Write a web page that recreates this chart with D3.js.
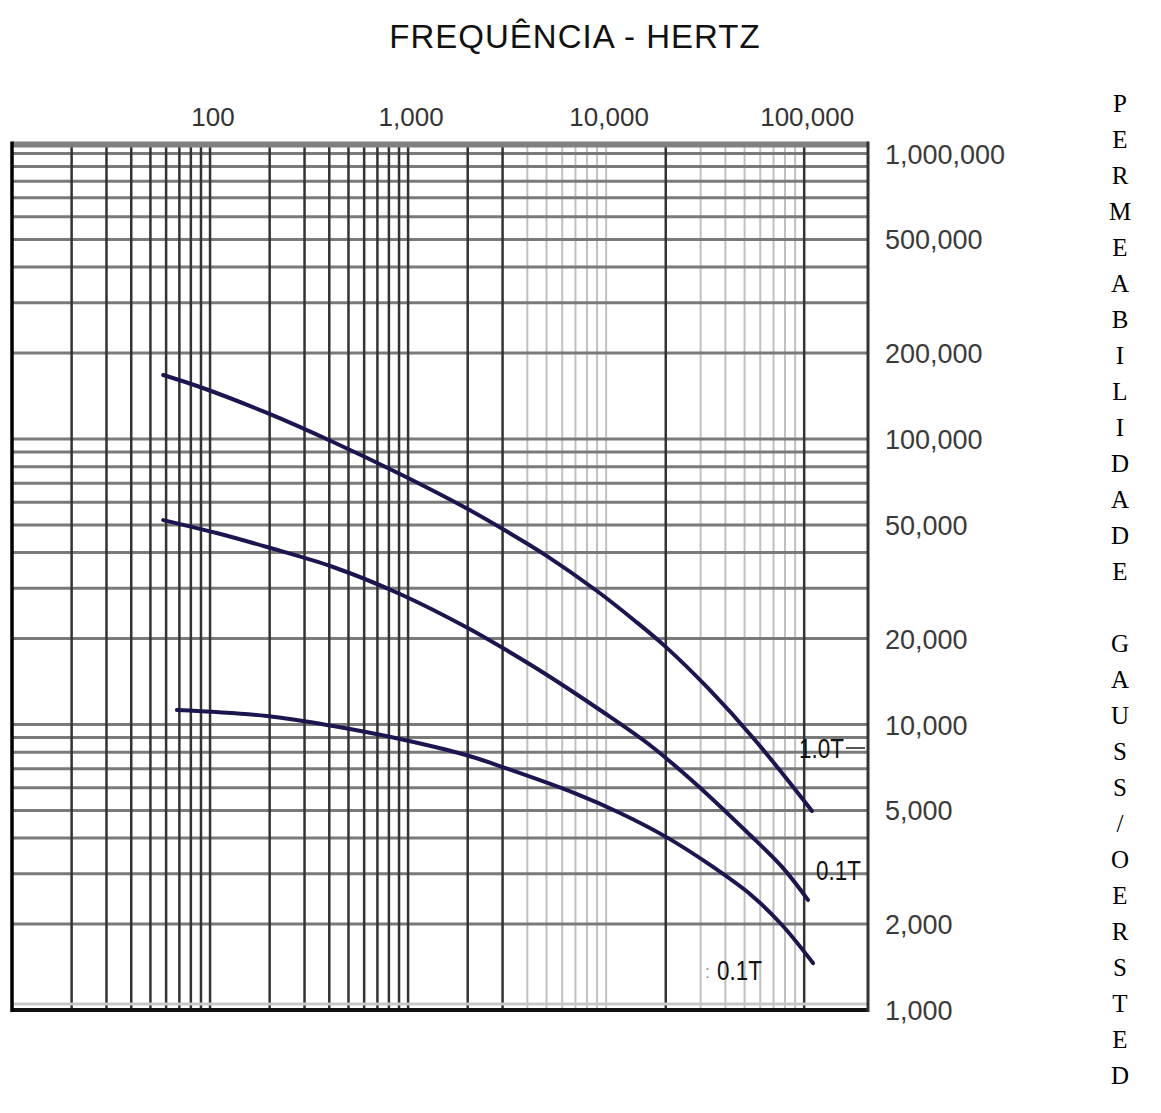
<!DOCTYPE html>
<html>
<head>
<meta charset="utf-8">
<script src="https://cdn.jsdelivr.net/npm/d3@7"></script>
<style>
  html, body { margin: 0; padding: 0; background: #fff; }
  svg { display: block; }
</style>
</head>
<body>
<script>
// Frequency axis (Hz, log)
const freqDomain = [10, 210000];
const freqTicks = [100, 1000, 10000, 100000];
const freqTickLabels = ["100", "1,000", "10,000", "100,000"];
const freqLinesDark = [20, 30, 40, 50, 60, 70, 80, 90, 100, 200, 300, 400, 500, 600, 700, 800, 900, 1000, 2000, 3000, 20000, 100000];
const freqLinesLight = [4000, 5000, 6000, 7000, 8000, 9000, 10000, 30000, 40000, 50000, 60000, 70000, 80000, 90000];

// Permeability axis (gauss/oersted, log)
const permDomain = [1000, 1000000];
const permTicks = [1000000, 500000, 200000, 100000, 50000, 20000, 10000, 5000, 2000, 1000];
const permTickLabels = ["1,000,000", "500,000", "200,000", "100,000", "50,000", "20,000", "10,000", "5,000", "2,000", "1,000"];
const permLines = [2000, 3000, 4000, 5000, 6000, 7000, 8000, 9000, 10000,
  20000, 30000, 40000, 50000, 60000, 70000, 80000, 90000, 100000,
  200000, 300000, 400000, 500000, 600000, 700000, 800000, 900000, 1000000];

// Curves: permeability vs frequency
const curveNames = ["1.0T", "0.1T", "0.1T"];
const freqA = [58, 89, 194, 418, 910, 1960, 3190, 5030, 8990, 14000, 20000, 32700, 56400, 109500];
const permA = [167600, 152100, 123400, 97600, 75400, 57300, 47200, 38900, 29350, 23050, 18700, 13400, 8830, 4980];
const freqB = [58, 108, 194, 418, 910, 1960, 3190, 5030, 9310, 16850, 28750, 51400, 77300, 104500];
const permB = [52000, 46860, 41840, 35620, 28650, 21950, 18090, 14910, 11240, 8410, 6140, 4200, 3170, 2430];
const freqC = [68, 194, 418, 910, 1960, 3190, 6880, 11750, 20060, 34200, 53900, 77300, 110800];
const permC = [11240, 10710, 9880, 8900, 7820, 6990, 5760, 4900, 4040, 3190, 2530, 1985, 1460];

const W = 1161, H = 1113;
const svg = d3.select("body").append("svg").attr("width", W).attr("height", H);
svg.append("rect").attr("width", W).attr("height", H).attr("fill", "#fff");

const x = d3.scaleLog().domain(freqDomain).range([12, 868]);
const y = d3.scaleLog().domain(permDomain).range([1010, 153.5]);

const frameLeft = x(freqDomain[0]), frameRight = x(freqDomain[1]);
const frameBottom = y(permDomain[0]), frameTop = y(permDomain[1]) - 9;

const grid = svg.append("g");

// light vertical lines
grid.append("g").selectAll("line").data(freqLinesLight).join("line")
  .attr("x1", d => x(d)).attr("x2", d => x(d))
  .attr("y1", frameTop).attr("y2", frameBottom)
  .attr("stroke", "#c0c0c0").attr("stroke-width", 2);

// horizontal lines
grid.append("g").selectAll("line").data(permLines).join("line")
  .attr("x1", frameLeft).attr("x2", frameRight)
  .attr("y1", d => y(d)).attr("y2", d => y(d))
  .attr("stroke", "#7a7a7a").attr("stroke-width", 3);

// dark vertical lines
grid.append("g").selectAll("line").data(freqLinesDark).join("line")
  .attr("x1", d => x(d)).attr("x2", d => x(d))
  .attr("y1", frameTop).attr("y2", frameBottom)
  .attr("stroke", "#333").attr("stroke-width", 2.5);

// frame
grid.append("line").attr("x1", frameLeft).attr("x2", frameRight).attr("y1", frameTop).attr("y2", frameTop)
  .attr("stroke", "#808080").attr("stroke-width", 6);
grid.append("line").attr("x1", frameLeft).attr("x2", frameRight).attr("y1", frameBottom - 6).attr("y2", frameBottom - 6)
  .attr("stroke", "#c8c8c8").attr("stroke-width", 3);
grid.append("line").attr("x1", frameLeft).attr("x2", frameRight).attr("y1", frameBottom).attr("y2", frameBottom)
  .attr("stroke", "#111").attr("stroke-width", 4);
grid.append("line").attr("x1", frameLeft).attr("x2", frameLeft).attr("y1", frameTop - 3).attr("y2", frameBottom + 2)
  .attr("stroke", "#000").attr("stroke-width", 3.5);
grid.append("line").attr("x1", frameRight).attr("x2", frameRight).attr("y1", frameTop - 3).attr("y2", frameBottom + 2)
  .attr("stroke", "#333").attr("stroke-width", 3);

// curves
const line = d3.line().x(d => x(d[0])).y(d => y(d[1])).curve(d3.curveCatmullRom.alpha(0.5));
const series = [
  d3.zip(freqA, permA),
  d3.zip(freqB, permB),
  d3.zip(freqC, permC)
];
svg.append("g").selectAll("path").data(series).join("path")
  .attr("d", line)
  .attr("fill", "none")
  .attr("stroke", "#1c1650")
  .attr("stroke-width", 4)
  .attr("stroke-linecap", "round");

// axis labels
const numFont = "'Liberation Sans', Arial, sans-serif";
svg.append("g").selectAll("text").data(freqTicks).join("text")
  .attr("x", d => x(d) + 3).attr("y", 126)
  .attr("text-anchor", "middle")
  .attr("font-family", numFont).attr("font-size", 26)
  .attr("fill", "#333")
  .text((d, i) => freqTickLabels[i]);

svg.append("g").selectAll("text").data(permTicks).join("text")
  .attr("x", 885).attr("y", d => y(d) + 10)
  .attr("font-family", numFont).attr("font-size", 27)
  .attr("fill", "#3a3a3a")
  .text((d, i) => permTickLabels[i]);

// series labels
function seriesLabel(px, py, txt) {
  svg.append("text")
    .attr("transform", `translate(${px},${py}) scale(0.8,1)`)
    .attr("font-family", numFont).attr("font-size", 28)
    .attr("fill", "#111")
    .text(txt);
}
seriesLabel(799, 758, curveNames[0]);
svg.append("line").attr("x1", 846).attr("x2", 865).attr("y1", 748).attr("y2", 748)
  .attr("stroke", "#555").attr("stroke-width", 2);
seriesLabel(816, 880, curveNames[1]);
seriesLabel(717, 980, curveNames[2]);
svg.append("text").attr("x", 705).attr("y", 978)
  .attr("font-family", numFont).attr("font-size", 18).attr("fill", "#999").text(":");

// title
svg.append("text")
  .attr("x", 575).attr("y", 48)
  .attr("text-anchor", "middle")
  .attr("font-family", numFont).attr("font-size", 33)
  .attr("letter-spacing", 1)
  .attr("fill", "#111")
  .text("FREQUÊNCIA - HERTZ");

// vertical axis title, one letter per row
const yTitle = "PERMEABILIDADE GAUSS/OERSTED".split("");
svg.append("g").selectAll("text").data(yTitle).join("text")
  .attr("x", 1120).attr("y", (d, i) => 103 + i * 36 + 9)
  .attr("text-anchor", "middle")
  .attr("font-family", "'Liberation Serif', 'Times New Roman', serif")
  .attr("font-size", 25)
  .attr("fill", "#000")
  .text(d => d);
</script>
</body>
</html>
